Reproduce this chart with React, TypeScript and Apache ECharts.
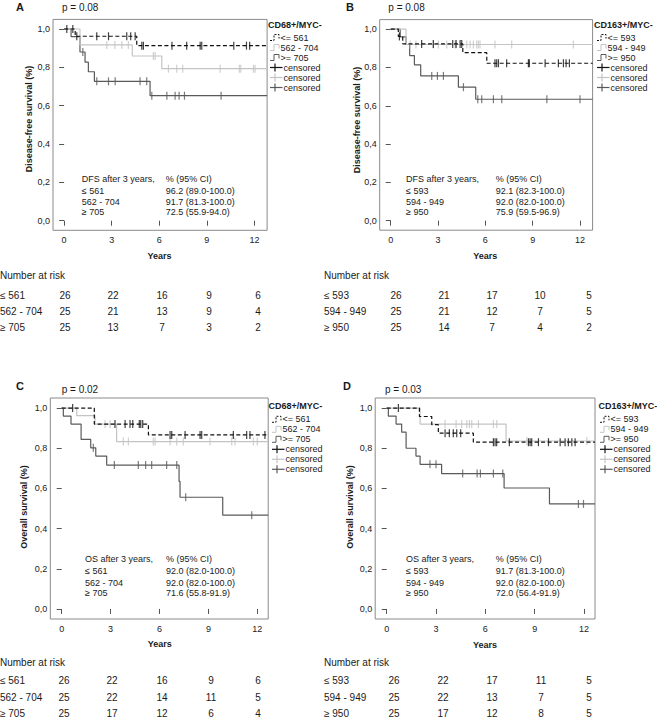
import React, { useEffect, useRef } from 'react';
import * as echarts from 'echarts';

const FONT = '"Liberation Sans", Arial, sans-serif';

// ---------- Panel A: DFS, CD68+/MYC- ----------
const a1Times = [0, 0.7, 4.58, 12.8];
const a1Surv = [1, 0.962, 0.913, 0.913];
const a1Cens = [0.17, 0.55, 0.8, 2.06, 2.8, 3.95, 4.2, 4.48, 4.9, 5.0, 6.8, 7.73, 8.58, 8.68, 10.7, 11.5, 11.7];
const a2Times = [0, 1.0, 4.3, 6.16, 12.8];
const a2Surv = [1, 0.917, 0.859, 0.793, 0.793];
const a2Cens = [2.69, 3.2, 3.64, 4.05, 5.63, 5.74, 6.58, 7.1, 7.48, 9.84, 11.05, 11.14, 11.94, 12.04];
const a3Times = [0, 0.44, 1.0, 1.32, 1.53, 1.91, 5.42, 12.8];
const a3Surv = [1, 0.96, 0.88, 0.827, 0.777, 0.727, 0.652, 0.652];
const a3Cens = [1.18, 2.06, 2.8, 3.22, 4.79, 5.21, 5.53, 6.48, 7.0, 7.25, 7.59, 9.9];

// ---------- Panel B: DFS, CD163+/MYC- ----------
const b1Times = [0, 0.48, 0.76, 4.57, 6.09, 12.8];
const b1Surv = [1, 0.962, 0.923, 0.877, 0.822, 0.822];
const b1Cens = [0.55, 1.96, 2.7, 3.93, 4.14, 4.4, 4.5, 6.61, 6.72, 6.83, 7.35, 8.73, 8.79, 9.79, 10.63, 10.95, 11.12, 11.33];
const b2Times = [0, 0.97, 12.8];
const b2Surv = [1, 0.92, 0.92];
const b2Cens = [1.23, 1.6, 2.7, 3.02, 3.55, 4.08, 4.14, 4.82, 5.03, 5.24, 5.45, 5.56, 5.66, 6.61, 7.67, 11.58];
const b3Times = [0, 0.6, 0.97, 1.2, 1.5, 1.9, 4.29, 5.39, 12.8];
const b3Surv = [1, 0.96, 0.92, 0.862, 0.814, 0.756, 0.697, 0.634, 0.634];
const b3Cens = [2.6, 2.96, 3.34, 4.61, 5.52, 5.77, 6.51, 7.04, 9.9, 12.0];

// ---------- Panel C: OS, CD68+/MYC- ----------
const c1Times = [0, 2.0, 5.32, 12.67];
const c1Surv = [1, 0.92, 0.866, 0.866];
const c1Cens = [0.67, 3.27, 3.89, 4.19, 4.36, 4.76, 4.85, 4.97, 6.65, 6.75, 7.57, 8.49, 8.59, 10.53, 11.35, 11.55, 12.47];
const c2Times = [0, 0.92, 2.04, 3.37, 12.67];
const c2Surv = [1, 0.962, 0.92, 0.833, 0.833];
const c2Cens = [2.66, 2.97, 3.78, 4.09, 5.62, 5.73, 6.65, 7.06, 7.46, 9.1, 10.43, 10.63, 11.76, 12.0];
const c3Times = [0, 0.1, 0.57, 1.19, 1.78, 2.09, 2.76, 7.2, 7.26, 9.88, 12.67];
const c3Surv = [1, 0.96, 0.92, 0.844, 0.802, 0.761, 0.716, 0.635, 0.556, 0.467, 0.467];
const c3Cens = [1.94, 3.23, 4.7, 5.15, 5.52, 6.44, 7.06, 7.61, 11.66];

// ---------- Panel D: OS, CD163+/MYC- ----------
const d1Times = [0, 1.99, 2.74, 3.14, 5.27, 12.67];
const d1Surv = [1, 0.958, 0.917, 0.875, 0.83, 0.83];
const d1Cens = [0.71, 3.55, 3.81, 4.05, 4.26, 4.5, 6.49, 6.59, 6.69, 7.46, 8.62, 8.72, 8.82, 9.23, 9.84, 10.55, 10.85, 11.05, 11.26, 11.46];
const d2Times = [0, 2.03, 7.26, 12.67];
const d2Surv = [1, 0.92, 0.836, 0.836];
const d2Cens = [3.55, 4.22, 4.56, 4.87, 5.03, 5.17, 5.58, 6.49, 6.69, 8.52, 12.17];
const d3Times = [0, 0.1, 0.57, 0.91, 1.18, 1.78, 2.03, 3.34, 7.14, 9.9, 12.67];
const d3Surv = [1, 0.96, 0.92, 0.88, 0.8, 0.761, 0.72, 0.674, 0.602, 0.523, 0.523];
const d3Cens = [2.63, 3.0, 4.62, 5.5, 5.7, 6.49, 7.06, 11.66, 11.97];

// ---------- Labels ----------
const panelLetters = ['A', 'B', 'C', 'D'];
const pValues = ['p = 0.08', 'p = 0.08', 'p = 0.02', 'p = 0.03'];
const legendTitles = ['CD68+/MYC-', 'CD163+/MYC-', 'CD68+/MYC-', 'CD163+/MYC-'];
const legendCD68 = ['<= 561', '562 - 704', '>= 705'];
const legendCD163 = ['<= 593', '594 - 949', '>= 950'];
const groupCD68 = ['≤ 561', '562 - 704', '≥ 705'];
const groupCD163 = ['≤ 593', '594 - 949', '≥ 950'];
const yTitles = ['Disease-free survival (%)', 'Disease-free survival (%)', 'Overall survival (%)', 'Overall survival (%)'];
const annHeads = ['DFS after 3 years,', 'DFS after 3 years,', 'OS after 3 years,', 'OS after 3 years,'];
const ciA = ['96.2 (89.0-100.0)', '91.7 (81.3-100.0)', '72.5 (55.9-94.0)'];
const ciB = ['92.1 (82.3-100.0)', '92.0 (82.0-100.0)', '75.9 (59.5-96.9)'];
const ciC = ['92.0 (82.0-100.0)', '92.0 (82.0-100.0)', '71.6 (55.8-91.9)'];
const ciD = ['91.7 (81.3-100.0)', '92.0 (82.0-100.0)', '72.0 (56.4-91.9)'];
const xTicks = [0, 3, 6, 9, 12];
const yTicks = [0, 0.2, 0.4, 0.6, 0.8, 1.0];
const riskA = [[26, 22, 16, 9, 6], [25, 21, 13, 9, 4], [25, 13, 7, 3, 2]];
const riskB = [[26, 21, 17, 10, 5], [25, 21, 12, 7, 5], [25, 14, 7, 4, 2]];
const riskC = [[26, 22, 16, 9, 6], [25, 22, 14, 11, 5], [25, 17, 12, 6, 4]];
const riskD = [[26, 22, 17, 11, 5], [25, 22, 13, 7, 5], [25, 17, 12, 8, 5]];

// ---------- Layout ----------
const COLORS = ['#111111', '#c4c4c4', '#5a5a5a'];
const LAYOUT = [
  { left: 53, top: 19.4, width: 214.1, height: 210.9, xMax: 12.8, ox: 0, oy: 0, letterX: 16, letterY: 7, pX: 62, pY: 7, yTitleX: 28.5, yTitleY: 119, yearsX: 159.5, yearsY: 256, legTitleX: 268, legX: 270, legTitleY: 25, legY: [37.5, 47.5, 57.5, 67.5, 77.5, 87.5], annX1: 81.7, annX2: 165.7, annY: [179, 190.7, 201.7, 211.7], tabLabelX: 0, tabCols: [65, 113, 162, 209, 258], tabTitleY: 275, tabY: [295, 311, 327] },
  { left: 379.7, top: 19.6, width: 212.9, height: 210.6, xMax: 12.8, ox: 0, oy: 0, letterX: 346, letterY: 7, pX: 388.3, pY: 7, yTitleX: 356.7, yTitleY: 120, yearsX: 485.3, yearsY: 256, legTitleX: 594, legX: 597, legTitleY: 25, legY: [37.5, 47.5, 57.5, 67.5, 77.5, 87.5], annX1: 406, annX2: 495.7, annY: [179, 190.7, 201.7, 211.7], tabLabelX: 324, tabCols: [396, 444, 492, 540, 589], tabTitleY: 275, tabY: [295, 311, 327] },
  { left: 50.3, top: 398, width: 217.9, height: 221, xMax: 12.67, ox: 0, oy: 0, letterX: 16, letterY: 386, pX: 61.7, pY: 389, yTitleX: 23.5, yTitleY: 507, yearsX: 159.7, yearsY: 644, legTitleX: 268.5, legX: 272, legTitleY: 405.7, legY: [419.3, 429.3, 439.3, 449.3, 459.3, 469.3], annX1: 85, annX2: 166, annY: [559, 571.3, 582.5, 592.7], tabLabelX: 0, tabCols: [64, 112, 162, 211, 258], tabTitleY: 662, tabY: [680, 697, 713] },
  { left: 375.2, top: 398, width: 219.8, height: 221, xMax: 12.67, ox: 0, oy: 0, letterX: 343, letterY: 386, pX: 385, pY: 389, yTitleX: 350, yTitleY: 507, yearsX: 485, yearsY: 645, legTitleX: 598.5, legX: 600, legTitleY: 405.7, legY: [419.3, 429.3, 439.3, 449.3, 459.3, 469.3], annX1: 406, annX2: 495.7, annY: [559, 571.3, 582.5, 592.7], tabLabelX: 324, tabCols: [394, 443, 492, 541, 589], tabTitleY: 662, tabY: [680, 697, 713] },
];

const panelCurves = [
  [[a1Times, a1Surv, a1Cens], [a2Times, a2Surv, a2Cens], [a3Times, a3Surv, a3Cens]],
  [[b1Times, b1Surv, b1Cens], [b2Times, b2Surv, b2Cens], [b3Times, b3Surv, b3Cens]],
  [[c1Times, c1Surv, c1Cens], [c2Times, c2Surv, c2Cens], [c3Times, c3Surv, c3Cens]],
  [[d1Times, d1Surv, d1Cens], [d2Times, d2Surv, d2Cens], [d3Times, d3Surv, d3Cens]],
];
const panelLegend = [legendCD68, legendCD163, legendCD68, legendCD163];
const panelGroups = [groupCD68, groupCD163, groupCD68, groupCD163];
const panelCI = [ciA, ciB, ciC, ciD];
const panelRisk = [riskA, riskB, riskC, riskD];

function survAt(times: number[], surv: number[], t: number) {
  let v = surv[0];
  for (let i = 0; i < times.length; i++) if (times[i] <= t) v = surv[i];
  return v;
}

function txt(x: number, y: number, text: string, size: number, opts: any = {}) {
  const align = opts.align || 'left';
  return {
    type: 'text',
    x,
    y,
    rotation: opts.rotation || 0,
    silent: true,
    style: {
      text,
      fontSize: size,
      fontFamily: FONT,
      fontWeight: opts.bold ? 'bold' : 'normal',
      fill: opts.color || '#1a1a1a',
      align,
      textAlign: align,
      verticalAlign: 'middle',
      textVerticalAlign: 'middle',
    },
  };
}

export default function App() {
  const ref = useRef<HTMLDivElement>(null);
  useEffect(() => {
    if (!ref.current) return;
    const chart = echarts.init(ref.current, undefined, { renderer: 'svg' });
    const grids: any[] = [];
    const xAxes: any[] = [];
    const yAxes: any[] = [];
    const series: any[] = [];
    const graphics: any[] = [];

    LAYOUT.forEach((L, p) => {
      grids.push({ left: L.left, top: L.top, width: L.width, height: L.height, show: true, borderColor: '#8a8a8a', borderWidth: 1, backgroundColor: 'transparent' });
      xAxes.push({
        type: 'value', gridIndex: p, min: -0.7, max: L.xMax,
        axisLine: { show: false },
        splitLine: { show: false },
        axisTick: { show: true, length: 5, customValues: xTicks, lineStyle: { color: '#555', width: 1 } },
        axisLabel: { customValues: xTicks, fontSize: 9, fontFamily: FONT, color: '#222', margin: 5 },
      });
      yAxes.push({
        type: 'value', gridIndex: p, min: -0.05, max: 1.05,
        axisLine: { show: false },
        splitLine: { show: false },
        axisTick: { show: true, length: 5, customValues: yTicks, lineStyle: { color: '#555', width: 1 } },
        axisLabel: { customValues: yTicks, fontSize: 9, fontFamily: FONT, color: '#222', margin: 3, formatter: (v: number) => v.toFixed(1).replace('.', ',') },
      });
      panelCurves[p].forEach(([times, surv, cens], g) => {
        series.push({
          type: 'line', xAxisIndex: p, yAxisIndex: p, step: 'end', showSymbol: false, symbol: 'none',
          data: times.map((t, i) => [t, surv[i]]),
          lineStyle: { color: COLORS[g], width: 1.2, type: g === 0 ? [4, 2.5] : 'solid' },
          z: 3 - g + 2,
          silent: true,
        });
        series.push({
          type: 'scatter', xAxisIndex: p, yAxisIndex: p, symbol: 'rect', symbolSize: [1.2, 8],
          data: cens.map((t) => [t, survAt(times, surv, t)]),
          itemStyle: { color: COLORS[g] },
          z: 3 - g + 2,
          silent: true,
        });
      });

      // texts
      graphics.push(txt(L.letterX, L.letterY, panelLetters[p], 11, { bold: true }));
      graphics.push(txt(L.pX, L.pY, pValues[p], 10));
      graphics.push(txt(L.yTitleX, L.yTitleY, yTitles[p], 9, { bold: true, align: 'center', rotation: Math.PI / 2 }));
      graphics.push(txt(L.yearsX, L.yearsY, 'Years', 9, { bold: true, align: 'center' }));
      // legend
      graphics.push(txt(L.legTitleX, L.legTitleY, legendTitles[p], 9, { bold: true }));
      panelLegend[p].forEach((lab, g) => {
        const y = L.legY[g];
        const x0 = L.legX;
        graphics.push({
          type: 'polyline', silent: true,
          shape: { points: [[x0, y + 3], [x0 + 4, y + 3], [x0 + 4, y - 3], [x0 + 9, y - 3], [x0 + 9, y + 1]] },
          style: { stroke: COLORS[g], lineWidth: 1, fill: null, lineDash: g === 0 ? [2, 1.5] : null },
        });
        graphics.push(txt(x0 + 10.5, y, lab, 9));
      });
      [0, 1, 2].forEach((g) => {
        const y = L.legY[3 + g];
        const x0 = L.legX;
        graphics.push({ type: 'line', silent: true, shape: { x1: x0, y1: y, x2: x0 + 12.5, y2: y }, style: { stroke: COLORS[g], lineWidth: 1.2 } });
        graphics.push({ type: 'line', silent: true, shape: { x1: x0 + 5, y1: y - 4, x2: x0 + 5, y2: y + 4 }, style: { stroke: COLORS[g], lineWidth: 1.2 } });
        graphics.push(txt(x0 + 13.5, y, 'censored', 9));
      });
      // annotation
      graphics.push(txt(L.annX1, L.annY[0], annHeads[p], 9));
      graphics.push(txt(L.annX2, L.annY[0], '% (95% CI)', 9));
      panelGroups[p].forEach((lab, g) => {
        graphics.push(txt(L.annX1, L.annY[g + 1], lab, 9));
        graphics.push(txt(L.annX2, L.annY[g + 1], panelCI[p][g], 9));
      });
      // risk table
      graphics.push(txt(L.tabLabelX, L.tabTitleY, 'Number at risk', 10));
      panelGroups[p].forEach((lab, g) => {
        graphics.push(txt(L.tabLabelX, L.tabY[g], lab, 10));
        panelRisk[p][g].forEach((n, c) => {
          graphics.push(txt(L.tabCols[c], L.tabY[g], String(n), 10, { align: 'center' }));
        });
      });
    });

    chart.setOption({
      animation: false,
      backgroundColor: '#ffffff',
      grid: grids,
      xAxis: xAxes,
      yAxis: yAxes,
      series,
      graphic: { elements: graphics },
    });
    return () => chart.dispose();
  }, []);
  return <div ref={ref} style={{ position: 'absolute', left: 0, top: 0, width: 657, height: 717, background: '#fff' }} />;
}
